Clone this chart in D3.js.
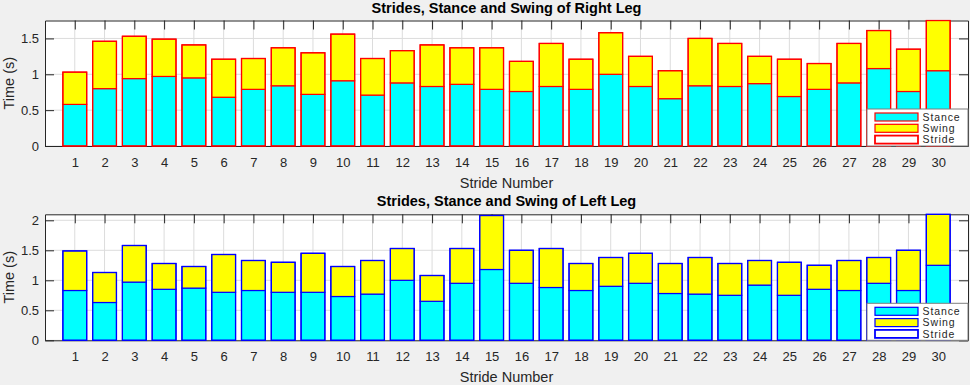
<!DOCTYPE html>
<html><head><meta charset="utf-8">
<script src="https://cdn.jsdelivr.net/npm/d3@7"></script>
<style>body{margin:0;background:#f0f0f0;}svg{display:block;}</style>
</head><body>
<script>
const strides = d3.range(1, 31);
const xTicks = d3.range(1, 31);
const rightStance = [0.58,0.80,0.94,0.97,0.95,0.68,0.79,0.84,0.72,0.91,0.71,0.88,0.83,0.86,0.79,0.76,0.83,0.79,1.00,0.83,0.66,0.84,0.83,0.87,0.69,0.79,0.88,1.08,0.76,1.05];
const rightSwing  = [0.45,0.66,0.59,0.52,0.46,0.53,0.43,0.53,0.58,0.65,0.51,0.45,0.58,0.51,0.58,0.42,0.60,0.42,0.58,0.42,0.39,0.66,0.60,0.38,0.52,0.36,0.55,0.53,0.59,0.70];
const rightStride = [1.03,1.46,1.53,1.49,1.41,1.21,1.22,1.37,1.30,1.56,1.22,1.33,1.41,1.37,1.37,1.18,1.43,1.21,1.58,1.25,1.05,1.50,1.43,1.25,1.21,1.15,1.43,1.61,1.35,1.75];
const leftStance  = [0.83,0.63,0.97,0.85,0.87,0.80,0.83,0.80,0.80,0.73,0.77,1.00,0.65,0.95,1.18,0.95,0.88,0.83,0.90,0.95,0.78,0.77,0.75,0.92,0.75,0.85,0.83,0.95,0.83,1.25];
const leftSwing   = [0.66,0.50,0.61,0.43,0.36,0.63,0.50,0.50,0.65,0.50,0.56,0.53,0.43,0.58,0.90,0.55,0.65,0.45,0.48,0.50,0.50,0.61,0.53,0.41,0.55,0.40,0.50,0.43,0.67,0.85];
const leftStride  = [1.49,1.13,1.58,1.28,1.23,1.43,1.33,1.30,1.45,1.23,1.33,1.53,1.08,1.53,2.08,1.50,1.53,1.28,1.38,1.45,1.28,1.38,1.28,1.33,1.30,1.25,1.33,1.38,1.50,2.10];
const rightYTicks = [0, 0.5, 1, 1.5];
const leftYTicks = [0, 0.5, 1, 1.5, 2];
const legendLabels = ["Stance", "Swing", "Stride"];

const W = 970, H = 385;
const svg = d3.select("body").append("svg").attr("width", W).attr("height", H)
  .style("font-family", "Arial, 'Liberation Sans', sans-serif");

function panel(cfg) {
  const {top, bottom, ymax, yTicks, stance, swing, stride, edge, title, id} = cfg;
  const left = 45, right = 968;
  const x = d3.scaleLinear().domain([0, 31]).range([left, right]);
  const y = d3.scaleLinear().domain([0, ymax]).range([bottom, top]);
  const g = svg.append("g");
  g.append("rect").attr("x", left).attr("y", top).attr("width", right-left).attr("height", bottom-top).attr("fill", "#fff");
  // grid
  g.selectAll(".gx").data(xTicks).join("line")
    .attr("x1", d => x(d)).attr("x2", d => x(d)).attr("y1", top).attr("y2", bottom)
    .attr("stroke", "#dcdcdc").attr("stroke-width", 1);
  g.selectAll(".gy").data(yTicks).join("line")
    .attr("x1", left).attr("x2", right).attr("y1", d => y(d)).attr("y2", d => y(d))
    .attr("stroke", "#dcdcdc").attr("stroke-width", 1);
  // axes
  const axB = d3.axisBottom(x).tickValues(xTicks).tickSize(-9).tickPadding(11.5).tickSizeOuter(0);
  const axT = d3.axisTop(x).tickValues(xTicks).tickSize(-9).tickFormat("").tickSizeOuter(0);
  const axL = d3.axisLeft(y).tickValues(yTicks).tickSize(-9).tickPadding(6).tickSizeOuter(0).tickFormat(d3.format("~g"));
  const axR = d3.axisRight(y).tickValues(yTicks).tickSize(-9).tickFormat("").tickSizeOuter(0);
  const styleAx = s => { s.selectAll("path").attr("stroke", "#262626"); s.selectAll("line").attr("stroke", "#262626");
    s.selectAll("text").attr("fill", "#262626").style("font-size", "13px").style("font-family", "Arial, 'Liberation Sans', sans-serif"); };
  g.append("g").attr("transform", `translate(0,${bottom})`).call(axB).call(styleAx);
  g.append("g").attr("transform", `translate(0,${top})`).call(axT).call(styleAx);
  g.append("g").attr("transform", `translate(${left},0)`).call(axL).call(styleAx);
  g.append("g").attr("transform", `translate(${right},0)`).call(axR).call(styleAx);
  // bars
  const clipId = "clip" + id;
  svg.append("clipPath").attr("id", clipId).append("rect")
    .attr("x", left).attr("y", top - 1).attr("width", right-left).attr("height", bottom-top+2);
  const bars = g.append("g").attr("clip-path", `url(#${clipId})`);
  const bw = x(0.8) - x(0);
  bars.selectAll(".stance").data(strides).join("rect")
    .attr("x", (d) => x(d) - bw/2).attr("width", bw)
    .attr("y", (d,i) => y(stance[i])).attr("height", (d,i) => y(0) - y(stance[i]))
    .attr("fill", "#00ffff").attr("stroke", edge).attr("stroke-width", 1.2);
  bars.selectAll(".swing").data(strides).join("rect")
    .attr("x", (d) => x(d) - bw/2).attr("width", bw)
    .attr("y", (d,i) => y(stance[i] + swing[i])).attr("height", (d,i) => y(stance[i]) - y(stance[i] + swing[i]))
    .attr("fill", "#ffff00").attr("stroke", edge).attr("stroke-width", 1.2);
  bars.selectAll(".stride").data(strides).join("rect")
    .attr("x", (d) => x(d) - bw/2).attr("width", bw)
    .attr("y", (d,i) => y(stride[i])).attr("height", (d,i) => y(0) - y(stride[i]))
    .attr("fill", "none").attr("stroke", edge).attr("stroke-width", 1.2);
  // title and labels
  g.append("text").attr("x", (left+right)/2).attr("y", top - 8).attr("text-anchor", "middle")
    .style("font-size", "14.5px").style("font-weight", "bold").attr("fill", "#000").text(title);
  g.append("text").attr("x", (left+right)/2).attr("y", bottom + 41.5).attr("text-anchor", "middle")
    .style("font-size", "14.5px").attr("fill", "#262626").text("Stride Number");
  g.append("text").attr("transform", `translate(14,${(top+bottom)/2}) rotate(-90)`).attr("text-anchor", "middle")
    .style("font-size", "14.5px").attr("fill", "#262626").text("Time (s)");
  // legend
  const lx = 867, lw = 101, lh = 37, ly = bottom - lh;
  const lg = g.append("g");
  lg.append("rect").attr("x", lx).attr("y", ly).attr("width", lw).attr("height", lh)
    .attr("fill", "#fff").attr("stroke", "#7f7f7f").attr("stroke-width", 1);
  const fills = ["#00ffff", "#ffff00", "#ffffff"];
  legendLabels.forEach((lab, i) => {
    const cy = ly + 8 + i * 11.3;
    lg.append("rect").attr("x", 875).attr("y", cy - 4).attr("width", 43).attr("height", 8)
      .attr("fill", fills[i]).attr("stroke", edge).attr("stroke-width", i === 2 ? 1.8 : 1.2);
    lg.append("text").attr("x", 922.5).attr("y", cy + 3.8).style("font-size", "10.5px")
      .style("letter-spacing", "0.9px").attr("fill", "#262626").text(lab);
  });
}

panel({id: "r", top: 20.5, bottom: 146, ymax: 1.75, yTicks: rightYTicks, stance: rightStance, swing: rightSwing, stride: rightStride, edge: "#ff0000", title: "Strides, Stance and Swing of Right Leg"});
panel({id: "l", top: 214.3, bottom: 340.3, ymax: 2.1, yTicks: leftYTicks, stance: leftStance, swing: leftSwing, stride: leftStride, edge: "#0000ff", title: "Strides, Stance and Swing of Left Leg"});
</script>
</body></html>
